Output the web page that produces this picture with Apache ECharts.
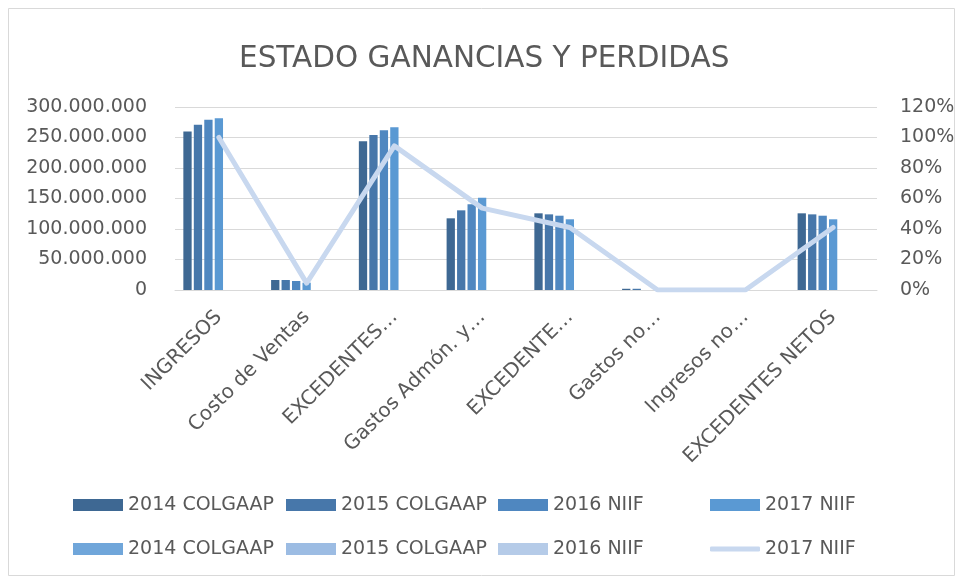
<!DOCTYPE html>
<html>
<head>
<meta charset="utf-8">
<script src="https://cdn.jsdelivr.net/npm/echarts@6/dist/echarts.min.js"></script>
<style>html,body{margin:0;padding:0;background:#fff}#c{width:962px;height:580px}</style>
</head>
<body>
<div id="c"></div>
<script>
const categories = ['INGRESOS', 'Costo de Ventas', 'EXCEDENTES…', 'Gastos Admón. y…', 'EXCEDENTE…', 'Gastos no…', 'Ingresos no…', 'EXCEDENTES NETOS'];
const v2014COLGAAP = [260000000, 16400000, 243800000, 117500000, 125700000, 2000000, 0, 125700000];
const v2015COLGAAP = [271000000, 16400000, 254000000, 130600000, 124000000, 2000000, 0, 124000000];
const v2016NIIF = [279000000, 14800000, 262000000, 140500000, 121800000, 0, 0, 121800000];
const v2017NIIF = [281500000, 12000000, 266700000, 151300000, 115900000, 0, 0, 115900000];
const p2014COLGAAP = [null, null, null, null, null, null, null, null];
const p2015COLGAAP = [null, null, null, null, null, null, null, null];
const p2016NIIF = [null, null, null, null, null, null, null, null];
const p2017NIIF = [1.00, 0.045, 0.945, 0.537, 0.41, 0, 0, 0.41];
const leftTicks = { min: 0, max: 300000000, interval: 50000000 };
const rightTicks = { min: 0, max: 1.2, interval: 0.2 };

const FONT = 'DejaVu Sans';
const TXT = '#595959';
const seriesDefs = [
  { key: '2014 COLGAAP|v', data: v2014COLGAAP, color: '#3e6893', type: 'bar', axis: 0 },
  { key: '2015 COLGAAP|v', data: v2015COLGAAP, color: '#4777aa', type: 'bar', axis: 0 },
  { key: '2016 NIIF|v', data: v2016NIIF, color: '#4f87c0', type: 'bar', axis: 0 },
  { key: '2017 NIIF|v', data: v2017NIIF, color: '#5a99d3', type: 'bar', axis: 0 },
  { key: '2014 COLGAAP|p', data: p2014COLGAAP, color: '#70a6da', type: 'bar', axis: 1 },
  { key: '2015 COLGAAP|p', data: p2015COLGAAP, color: '#9cbce3', type: 'bar', axis: 1 },
  { key: '2016 NIIF|p', data: p2016NIIF, color: '#b5cbe8', type: 'bar', axis: 1 },
  { key: '2017 NIIF|p', data: p2017NIIF, color: '#c8d8ef', type: 'line', axis: 1 }
];

const series = seriesDefs.map(d => {
  if (d.type === 'bar') {
    return {
      name: d.key, type: 'bar', yAxisIndex: d.axis, data: d.data,
      barWidth: 8.3, barGap: '26%',
      itemStyle: { color: d.color }
    };
  }
  return {
    name: d.key, type: 'line', yAxisIndex: d.axis, data: d.data,
    symbol: 'none', z: 5,
    lineStyle: { color: d.color, width: 5, cap: 'round', join: 'round' },
    itemStyle: { color: d.color }
  };
});

const colLeft = [73, 286, 498, 710];
const rowTop = [494, 538];
const legends = seriesDefs.map((d, i) => ({
  left: colLeft[i % 4], top: rowTop[Math.floor(i / 4)],
  padding: 0,
  data: [d.key],
  itemWidth: 50, itemHeight: d.type === 'line' ? 5 : 12,
  icon: d.type === 'line' ? 'roundRect' : 'rect',
  selectedMode: false,
  formatter: n => n.split('|')[0],
  textStyle: { fontFamily: FONT, fontSize: 19, color: TXT, lineHeight: 22 }
}));

const fmtNum = v => String(v).replace(/\B(?=(\d{3})+(?!\d))/g, '.');

const option = {
  animation: false,
  backgroundColor: '#fff',
  title: {
    text: 'ESTADO GANANCIAS Y PERDIDAS',
    left: 239, top: 44, padding: 0,
    textStyle: { fontFamily: FONT, fontSize: 29.5, fontWeight: 'normal', color: TXT }
  },
  legend: legends,
  grid: { left: 175, right: 85, top: 107, bottom: 290, containLabel: false },
  xAxis: {
    type: 'category', data: categories,
    axisLine: { show: true, lineStyle: { color: '#d9d9d9', width: 1 } },
    axisTick: { show: false },
    axisLabel: { rotate: 45, margin: 24, interval: 0, fontFamily: FONT, fontSize: 20, color: TXT }
  },
  yAxis: [
    {
      type: 'value', min: leftTicks.min, max: leftTicks.max, interval: leftTicks.interval,
      axisLine: { show: false }, axisTick: { show: false },
      splitLine: { lineStyle: { color: '#d9d9d9', width: 1 } },
      axisLabel: { margin: 28, fontFamily: FONT, fontSize: 19, color: TXT, formatter: fmtNum }
    },
    {
      type: 'value', min: rightTicks.min, max: rightTicks.max, interval: rightTicks.interval,
      axisLine: { show: false }, axisTick: { show: false }, splitLine: { show: false },
      axisLabel: { margin: 23, fontFamily: FONT, fontSize: 19, color: TXT, formatter: v => Math.round(v * 100) + '%' }
    }
  ],
  graphic: [{
    type: 'rect', shape: { x: 8.5, y: 8.5, width: 946, height: 567 },
    style: { fill: null, stroke: '#d9d9d9', lineWidth: 1 }, silent: true, z: -1
  }],
  series: series
};

const chart = echarts.init(document.getElementById('c'), null, { renderer: 'canvas' });
chart.setOption(option);
</script>
</body>
</html>
